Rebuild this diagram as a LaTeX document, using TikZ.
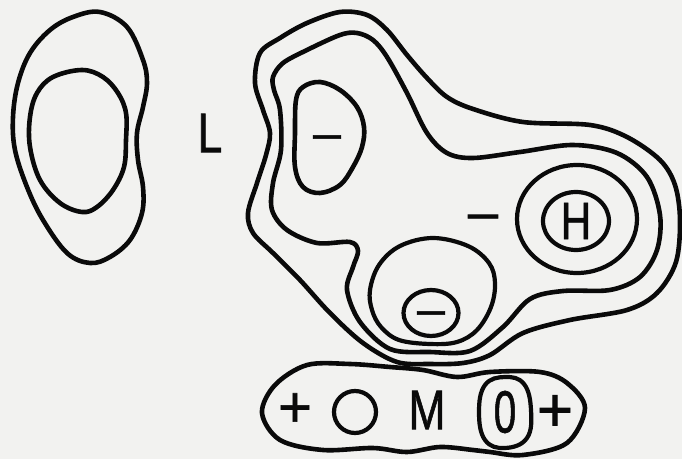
\documentclass[tikz,border=0pt]{standalone}
\usepackage{fontspec}
\setmainfont{Liberation Sans}
\newfontfamily\lblfont[FakeBold=1.2]{Liberation Sans}
\definecolor{paper}{RGB}{242,242,240}
\definecolor{ink}{RGB}{10,10,10}
\tikzset{
  contour/.style={draw=ink, line width=4.6bp, line join=round},
  thin contour/.style={draw=ink, line width=4.2bp},
  lbl/.style={inner sep=0pt, text=ink, font=\lblfont\fontsize{56}{56}\selectfont, xscale=0.8},
  dashlbl/.style={inner sep=0pt, text=ink, font=\lblfont\fontsize{50}{50}\selectfont, yshift=-5.5bp},
  pluslbl/.style={inner sep=0pt, text=ink, font=\lblfont\fontsize{58}{58}\selectfont, yshift=-3bp},
}
\begin{document}
\begin{tikzpicture}[x=1bp,y=-1bp]
\fill[paper] (0,0) rectangle (682,459);
\useasboundingbox (0,0) rectangle (682,459);

% left blob
\draw[contour] plot[smooth cycle, tension=0.6] coordinates {
 (100,12) (127,27) (143,60) (147,83) (143,107) (137,133) (138,160) (143,187)
 (142,213) (130,240) (110,257) (90,263) (67,253) (43,220) (27,187) (15,150)
 (13,117) (18,83) (30,53) (50,30) (73,17)};
\draw[contour] plot[smooth cycle, tension=0.6] coordinates {
 (82,70) (103,77) (118,93) (126,113) (126,140) (124,167) (113,190) (97,207)
 (82,212) (60,203) (40,180) (30,147) (30,117) (37,93) (53,77)};
\node[lbl] (L) at (210,133) {L};

% big outer contour
\draw[contour] plot[smooth cycle, tension=0.55] coordinates {
 (260,53) (280,38) (307,23) (340,12) (367,15) (387,30) (407,55) (427,78)
 (447,97) (473,109) (523,122) (590,125) (627,137) (660,160) (675,185)
 (680,220) (676,262) (657,293) (627,310) (570,320) (523,333) (490,355)
 (463,363) (430,364) (397,362) (363,343) (330,313) (300,280) (273,253)
 (253,233) (248,213) (257,183) (266,155) (270,133) (263,110) (255,83)};
% second contour
\draw[contour] plot[smooth cycle, tension=0.55] coordinates {
 (273,77) (283,63) (307,50) (340,35) (357,33) (373,40) (387,57) (407,93)
 (427,133) (447,153) (473,158) (520,152) (573,145) (617,153) (647,177)
 (660,215) (657,250) (640,277) (610,290) (563,291) (530,299) (503,327)
 (470,351) (430,352) (390,349) (360,322) (347,290) (353,267) (358,251)
 (350,242) (317,243) (287,230) (272,210) (273,183) (281,150) (280,110)
 (274,90)};
% upper minus blob
\draw[contour] plot[smooth cycle, tension=0.6] coordinates {
 (320,82) (340,90) (357,107) (364,127) (362,147) (353,167) (340,185)
 (320,193) (303,187) (295,167) (295,133) (296,100) (303,87)};
\node[dashlbl] (m1) at (327,137) {–};

% H
\draw[thin contour] (577,219) ellipse[x radius=60, y radius=54];
\draw[thin contour] (576,221) ellipse[x radius=33, y radius=29];
\node[lbl, font=\lblfont\fontsize{53}{53}\selectfont] (H) at (576,221) {H};
\node[dashlbl, font=\lblfont\fontsize{54}{54}\selectfont] (m2) at (483,217) {–};

% lower minus
\draw[thin contour] plot[smooth cycle, tension=0.6] coordinates {
 (433,238) (468,246) (489,263) (495,283) (491,307) (477,330) (457,342)
 (430,344) (399,340) (381,327) (372,310) (370,290) (379,265) (400,246)};
\draw[thin contour] (431,313) ellipse[x radius=27.5, y radius=23];
\node[dashlbl] (m3) at (431,313) {–};

% bottom blob
\draw[contour] plot[smooth cycle, tension=0.55] coordinates {
 (262,413) (275,385) (307,365) (350,364) (390,367) (423,370) (457,377)
 (490,372) (540,372) (567,383) (585,408) (567,443) (523,455) (490,452)
 (473,450) (440,447) (407,452) (373,448) (323,450) (280,440)};
\node[pluslbl] (p1) at (295,407) {+};
\draw[thin contour] (355,412) circle[radius=21];
\node[lbl] (M) at (427,410) {M};
\draw[thin contour] plot[smooth cycle, tension=0.7] coordinates {
 (505,377) (524,384) (531,410) (527,438) (505,448) (485,440) (479,412) (485,385)};
\node[lbl, font=\lblfont\fontsize{60}{60}\selectfont, xscale=0.85] (zero) at (505,412) {0};
\node[pluslbl, font=\lblfont\fontsize{62}{62}\selectfont] (p2) at (555,410) {+};
\end{tikzpicture}
\end{document}
